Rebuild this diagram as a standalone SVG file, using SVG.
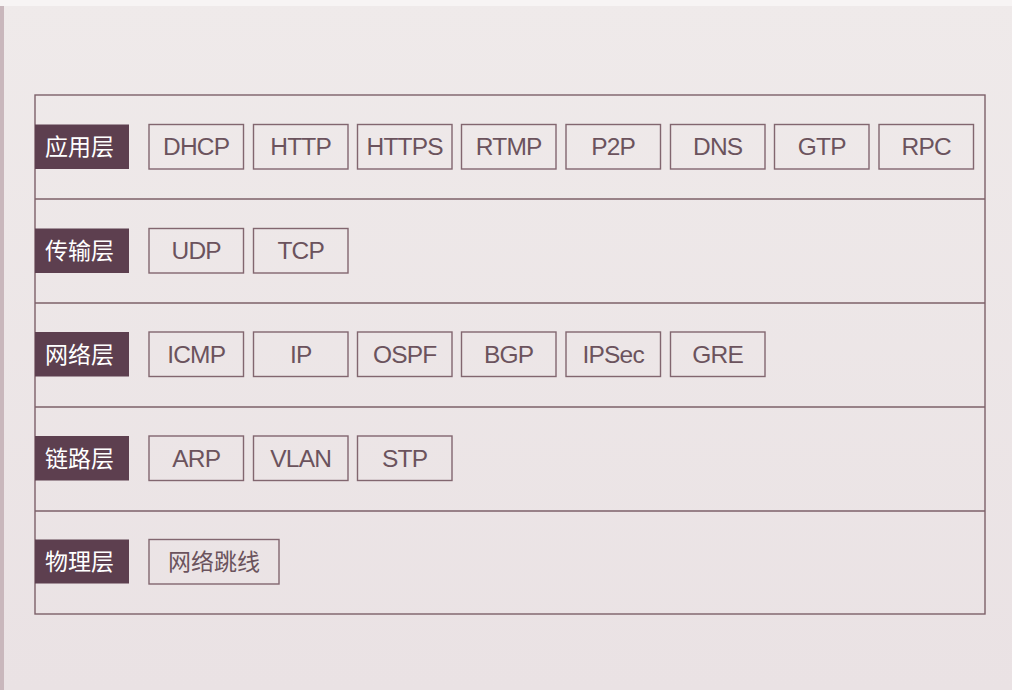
<svg xmlns="http://www.w3.org/2000/svg" width="1012" height="690" viewBox="0 0 1012 690">
<defs>
<linearGradient id="bg" x1="0" y1="0" x2="0" y2="1">
<stop offset="0" stop-color="#efeaea"/>
<stop offset="1" stop-color="#eae2e4"/>
</linearGradient>
<style>
.frame{fill:none;stroke:#7d6069;stroke-width:1.4}
.div{stroke:#7d6069;stroke-width:1.4}
.lab{fill:#5d3f4f}
.labt{fill:#ffffff;font-family:"Noto Sans CJK SC",sans-serif;font-size:23px}
.box{fill:none;stroke:#82666f;stroke-width:1.4}
.bt{fill:#6b535d;font-family:"Liberation Sans",Arial,sans-serif;font-size:24.5px;letter-spacing:-0.8px;text-anchor:middle}
.bc{fill:#6b535d;font-family:"Noto Sans CJK SC",sans-serif;font-size:23px;text-anchor:middle}
</style>
</defs>
<rect width="1012" height="690" fill="url(#bg)"/>
<rect x="0" y="0" width="4" height="690" fill="#c9b7bc"/>
<rect x="0" y="0" width="1012" height="6" fill="#f7f4f4"/>
<g id="frame">
<rect class="frame" x="35" y="95" width="950" height="519"/>
</g>
<g id="connectors">
<line class="div" x1="35" y1="199" x2="985" y2="199"/>
<line class="div" x1="35" y1="303" x2="985" y2="303"/>
<line class="div" x1="35" y1="407" x2="985" y2="407"/>
<line class="div" x1="35" y1="511" x2="985" y2="511"/>
</g>
<g id="layer-app">
<rect class="lab" x="35" y="124.5" width="94" height="44.5"/>
<text class="labt" x="45" y="155">应用层</text>
<rect class="box" x="149" y="124.5" width="94.5" height="44.5"/><text class="bt" x="196.2" y="155.3">DHCP</text>
<rect class="box" x="253.5" y="124.5" width="94.5" height="44.5"/><text class="bt" x="300.7" y="155.3">HTTP</text>
<rect class="box" x="357.5" y="124.5" width="94.5" height="44.5"/><text class="bt" x="404.7" y="155.3">HTTPS</text>
<rect class="box" x="461.5" y="124.5" width="94.5" height="44.5"/><text class="bt" x="508.7" y="155.3">RTMP</text>
<rect class="box" x="566" y="124.5" width="94.5" height="44.5"/><text class="bt" x="613.2" y="155.3">P2P</text>
<rect class="box" x="670.5" y="124.5" width="94.5" height="44.5"/><text class="bt" x="717.7" y="155.3">DNS</text>
<rect class="box" x="774.5" y="124.5" width="94.5" height="44.5"/><text class="bt" x="821.7" y="155.3">GTP</text>
<rect class="box" x="879" y="124.5" width="94.5" height="44.5"/><text class="bt" x="926.2" y="155.3">RPC</text>
</g>
<g id="layer-transport">
<rect class="lab" x="35" y="228.5" width="94" height="44.5"/>
<text class="labt" x="45" y="259">传输层</text>
<rect class="box" x="149" y="228.5" width="94.5" height="44.5"/><text class="bt" x="196.2" y="259.3">UDP</text>
<rect class="box" x="253.5" y="228.5" width="94.5" height="44.5"/><text class="bt" x="300.7" y="259.3">TCP</text>
</g>
<g id="layer-network">
<rect class="lab" x="35" y="332" width="94" height="44.5"/>
<text class="labt" x="45" y="362.5">网络层</text>
<rect class="box" x="149" y="332" width="94.5" height="44.5"/><text class="bt" x="196.2" y="362.8">ICMP</text>
<rect class="box" x="253.5" y="332" width="94.5" height="44.5"/><text class="bt" x="300.7" y="362.8">IP</text>
<rect class="box" x="357.5" y="332" width="94.5" height="44.5"/><text class="bt" x="404.7" y="362.8">OSPF</text>
<rect class="box" x="461.5" y="332" width="94.5" height="44.5"/><text class="bt" x="508.7" y="362.8">BGP</text>
<rect class="box" x="566" y="332" width="94.5" height="44.5"/><text class="bt" x="613.2" y="362.8">IPSec</text>
<rect class="box" x="670.5" y="332" width="94.5" height="44.5"/><text class="bt" x="717.7" y="362.8">GRE</text>
</g>
<g id="layer-link">
<rect class="lab" x="35" y="436" width="94" height="44.5"/>
<text class="labt" x="45" y="466.5">链路层</text>
<rect class="box" x="149" y="436" width="94.5" height="44.5"/><text class="bt" x="196.2" y="466.8">ARP</text>
<rect class="box" x="253.5" y="436" width="94.5" height="44.5"/><text class="bt" x="300.7" y="466.8">VLAN</text>
<rect class="box" x="357.5" y="436" width="94.5" height="44.5"/><text class="bt" x="404.7" y="466.8">STP</text>
</g>
<g id="layer-physical">
<rect class="lab" x="35" y="539.5" width="94" height="44"/>
<text class="labt" x="45" y="570">物理层</text>
<rect class="box" x="149" y="539.5" width="130" height="44.5"/><text class="bc" x="214" y="570">网络跳线</text>
</g>
</svg>
